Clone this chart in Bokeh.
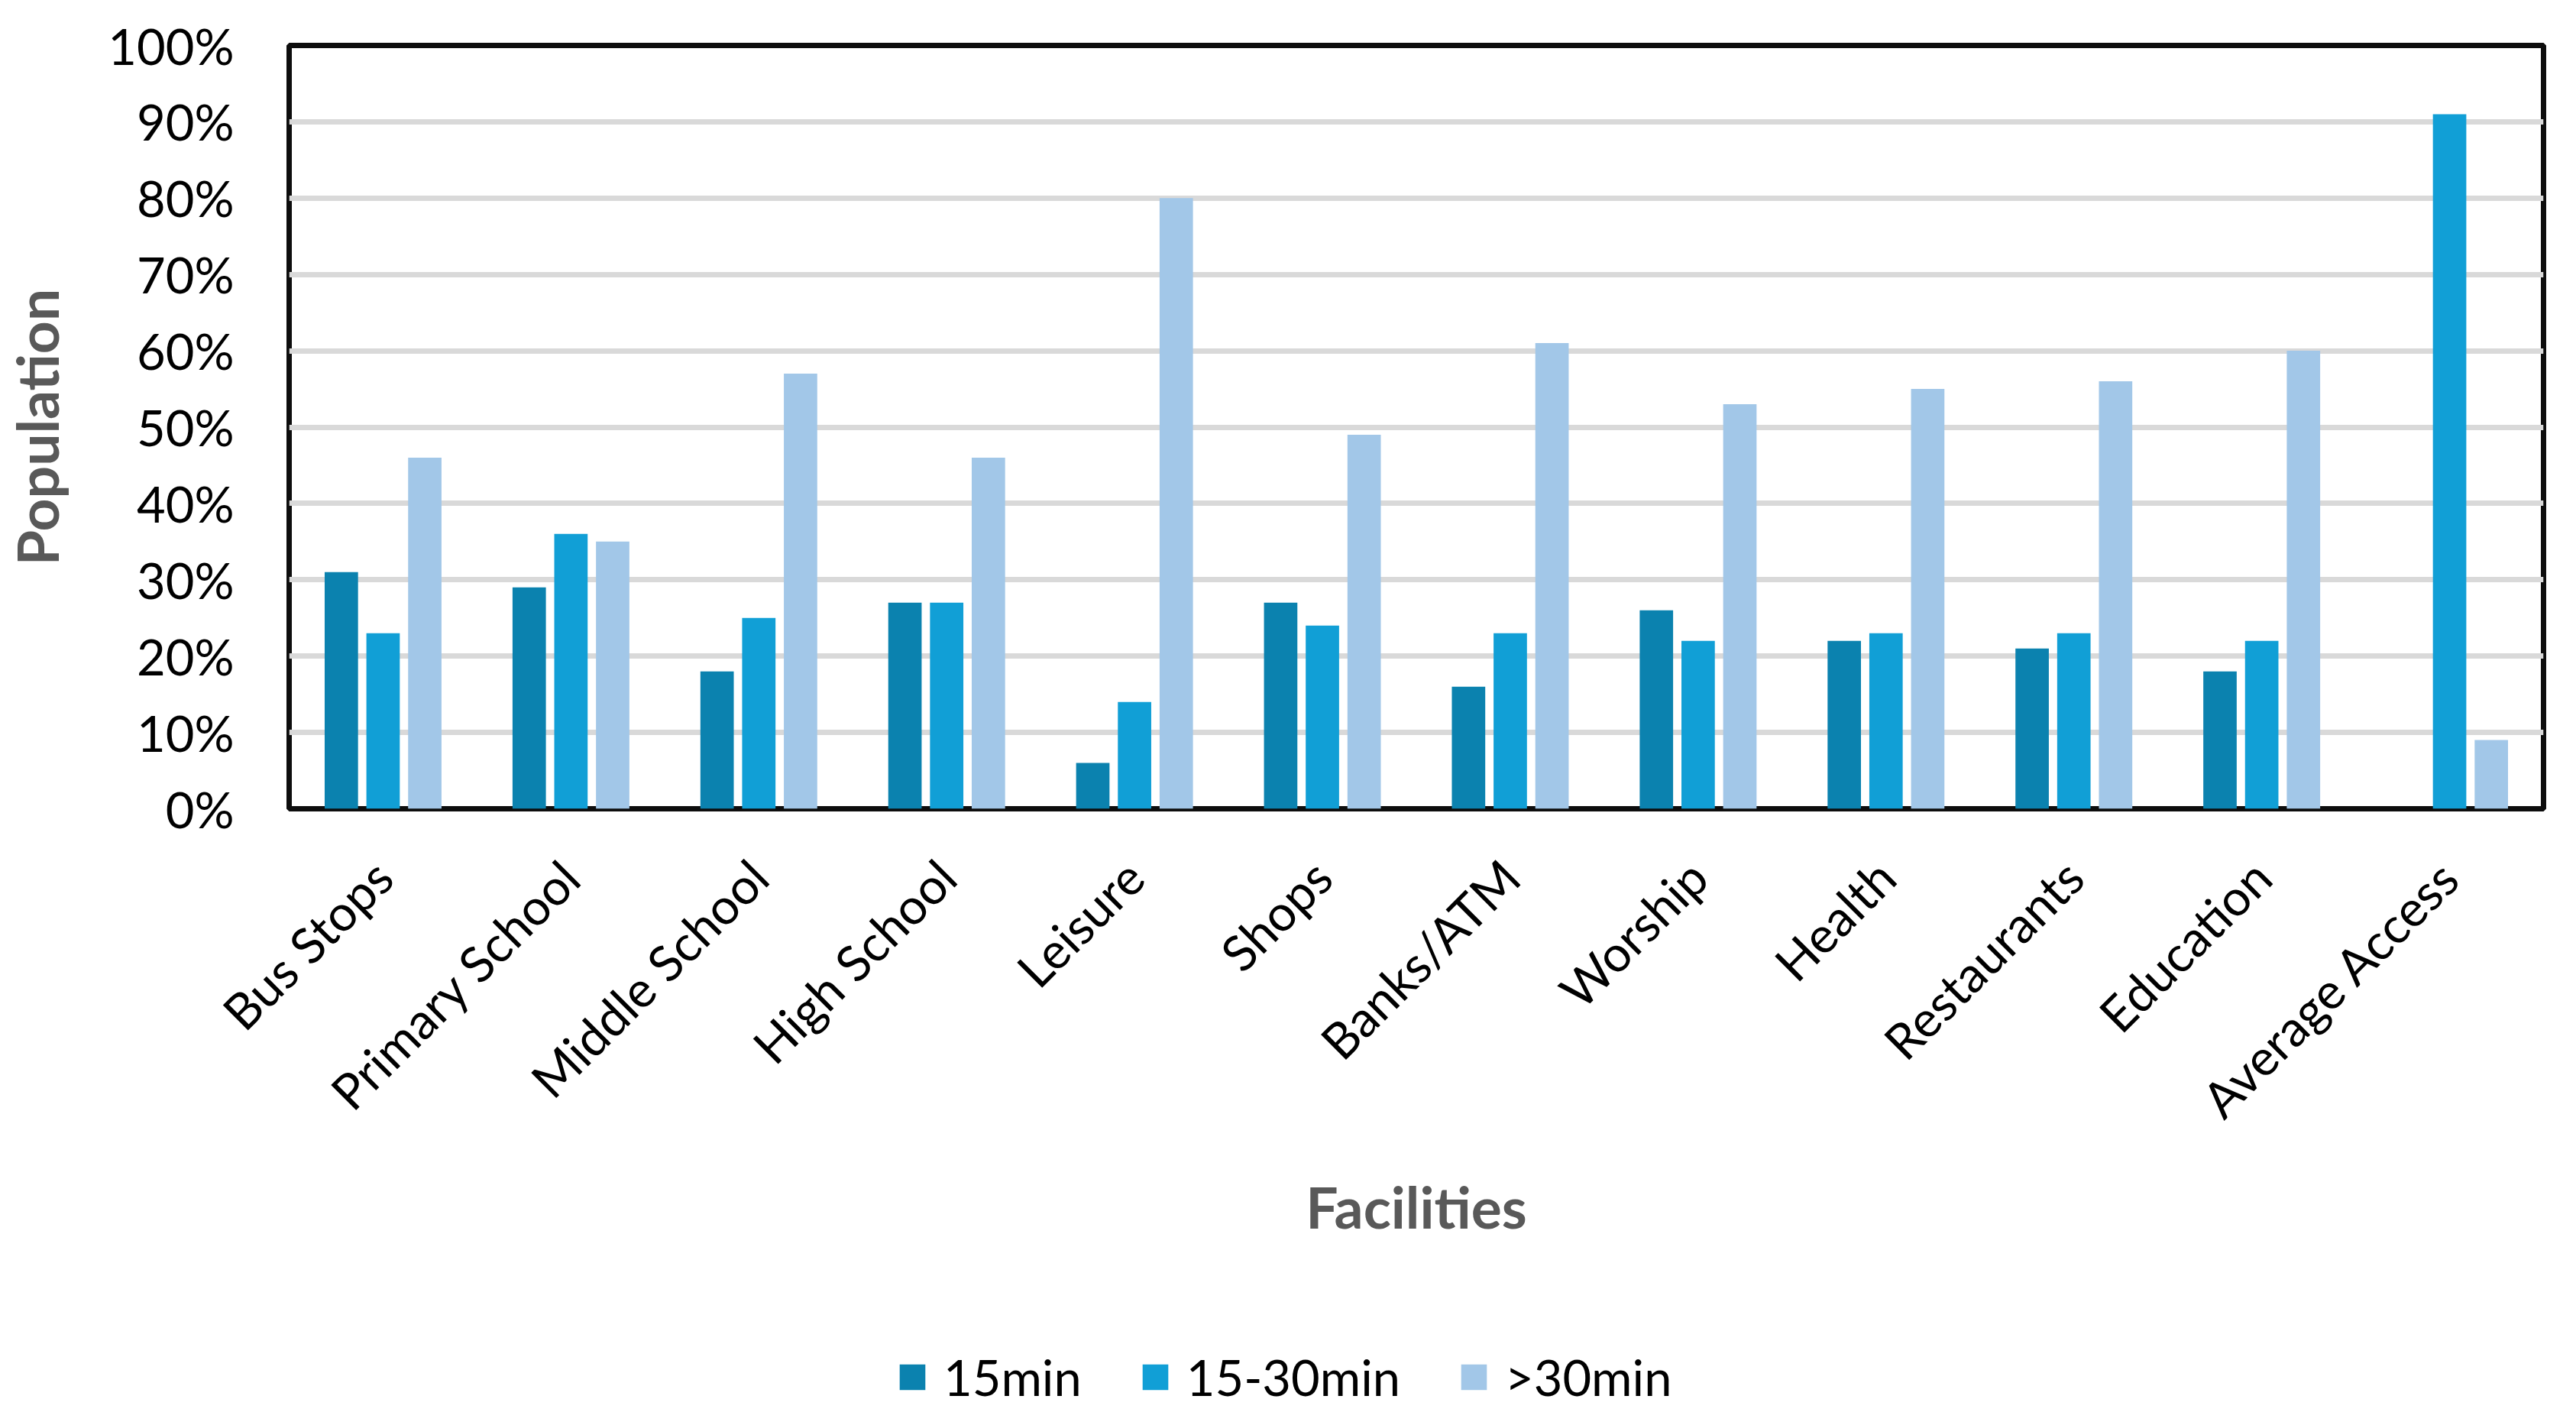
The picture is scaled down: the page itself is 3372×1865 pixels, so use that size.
from bokeh.plotting import figure
from bokeh.layouts import column
from bokeh.models import (FactorRange, Range1d, ColumnDataSource, Legend, LegendItem,
                          PrintfTickFormatter, FixedTicker, Grid)
from bokeh.transform import dodge
from bokeh.embed import file_html
from bokeh.resources import INLINE
import math

categories = ["Bus Stops", "Primary School", "Middle School", "High School", "Leisure",
              "Shops", "Banks/ATM", "Worship", "Health", "Restaurants", "Education",
              "Average Access"]
series_names = ["15min", "15-30min", ">30min"]
v_15 = [31, 29, 18, 27, 6, 27, 16, 26, 22, 21, 18, 0]
v_15_30 = [23, 36, 25, 27, 14, 24, 23, 22, 23, 23, 22, 91]
v_30 = [46, 35, 57, 46, 80, 49, 61, 53, 55, 56, 60, 9]
y_ticks = [0, 10, 20, 30, 40, 50, 60, 70, 80, 90, 100]

colors = ["#0B82AF", "#119FD6", "#A2C7E8"]
FONT = "Lato"

src = ColumnDataSource(data=dict(cat=categories, a=v_15, b=v_15_30, c=v_30))

p = figure(x_range=FactorRange(*categories, range_padding=0), y_range=Range1d(0, 100),
           width=3356, height=1740, output_backend="svg", toolbar_location=None,
           min_border_left=358, min_border_right=27, min_border_top=59, min_border_bottom=682)

off = 55 / 247.6
bw = 44 / 247.6
p.vbar(x=dodge("cat", -off, range=p.x_range), top="a", width=bw, source=src,
       fill_color=colors[0], line_color=None)
p.vbar(x=dodge("cat", 0, range=p.x_range), top="b", width=bw, source=src,
       fill_color=colors[1], line_color=None)
p.vbar(x=dodge("cat", off, range=p.x_range), top="c", width=bw, source=src,
       fill_color=colors[2], line_color=None)

p.outline_line_color = "#0D0D0D"
p.outline_line_width = 7
p.background_fill_color = "white"
p.border_fill_color = "white"

p.xgrid.grid_line_color = None
p.ygrid.grid_line_color = "#D9D9D9"
p.ygrid.grid_line_width = 7
p.ygrid.ticker = FixedTicker(ticks=y_ticks)

p.yaxis.ticker = FixedTicker(ticks=y_ticks)
p.yaxis.formatter = PrintfTickFormatter(format="%d%%")

for ax in [p.xaxis[0], p.yaxis[0]]:
    ax.axis_line_color = None
    ax.major_tick_line_color = None
    ax.minor_tick_line_color = None
    ax.major_tick_out = 0
    ax.major_tick_in = 0
    ax.minor_tick_out = 0
    ax.major_label_text_font = FONT
    ax.major_label_text_font_size = "65px"
    ax.major_label_text_color = "black"
    ax.axis_label_text_font = FONT
    ax.axis_label_text_font_style = "bold"
    ax.axis_label_text_font_size = "75px"
    ax.axis_label_text_color = "#595959"

p.yaxis.axis_label = "Population"
p.yaxis.major_label_standoff = 72
p.yaxis.axis_label_standoff = 45

p.xaxis.axis_label = "Facilities"
p.xaxis.major_label_orientation = math.pi / 4
p.xaxis.major_label_standoff = 78
p.xaxis.axis_label_standoff = 26

# legend strip below the chart (its bars lie outside its visible range)
lp = figure(width=3356, height=109, output_backend="svg", toolbar_location=None,
            x_range=FactorRange(*categories, range_padding=0), y_range=Range1d(200, 300),
            x_axis_location=None, y_axis_location=None,
            min_border_left=0, min_border_right=0, min_border_top=0, min_border_bottom=0)
lp.outline_line_color = None
lp.background_fill_color = "white"
lp.border_fill_color = "white"
for r in list(lp.center) + list(lp.renderers):
    if isinstance(r, Grid):
        r.visible = False
lr = [lp.vbar(x="cat", top=col, width=bw, source=src, fill_color=c, line_color=None)
      for col, c in zip(["a", "b", "c"], colors)]

legend = Legend(items=[LegendItem(label=n, renderers=[r]) for n, r in zip(series_names, lr)],
                orientation="horizontal", location=(795, 8),
                glyph_width=42, glyph_height=42, label_standoff=20, spacing=75,
                label_text_font=FONT, label_text_font_size="65px", label_text_color="black",
                padding=0, margin=0, border_line_color=None, background_fill_alpha=0)
lp.add_layout(legend)

layout = column(p, lp, spacing=0)
open("out.html", "w").write(file_html(layout, INLINE))
